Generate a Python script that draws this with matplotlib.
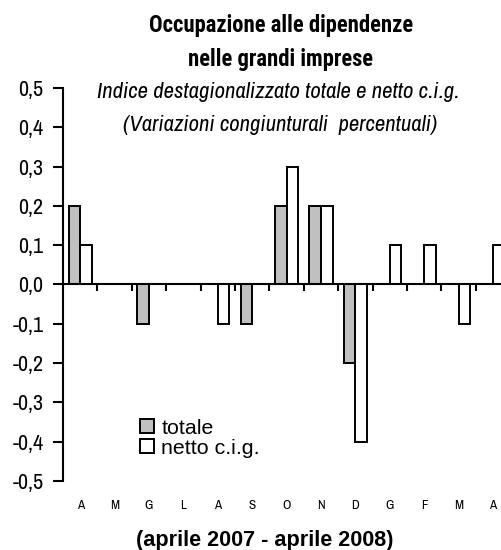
import matplotlib
matplotlib.use("Agg")
import matplotlib.pyplot as plt
from matplotlib.patches import Patch

# months from april 2007 to april 2008
months = ["A", "M", "G", "L", "A", "S", "O", "N", "D", "G", "F", "M", "A"]
totale = [0.2, 0.0, -0.1, 0.0, 0.0, -0.1, 0.2, 0.2, -0.2, 0.0, 0.0, 0.0, 0.0]
netto = [0.1, 0.0, 0.0, 0.0, -0.1, 0.0, 0.3, 0.2, -0.4, 0.1, 0.1, -0.1, 0.1]
y_ticks = [0.5, 0.4, 0.3, 0.2, 0.1, 0.0, -0.1, -0.2, -0.3, -0.4, -0.5]
y_labels = ["0,5", "0,4", "0,3", "0,2", "0,1", "0,0", "-0,1", "-0,2", "-0,3", "-0,4", "-0,5"]

narrow = ["Archivo Narrow", "Roboto Condensed", "DejaVu Sans"]
narrow_bold = ["Roboto Condensed", "Archivo Narrow", "DejaVu Sans"]
arial = ["Liberation Sans", "Arimo", "DejaVu Sans"]

fig = plt.figure(figsize=(5.02, 5.5), dpi=100)
ax = fig.add_axes([0.1255, 0.1255, 0.8908, 0.7145])

x = list(range(len(months)))
w = 0.335
ax.bar([i - w / 2 for i in x], totale, w, color="#c0c0c0", edgecolor="black", linewidth=1.4, zorder=2)
ax.bar([i + w / 2 for i in x], netto, w, color="white", edgecolor="black", linewidth=1.4, zorder=2)

ax.set_xlim(-0.5, len(months) - 0.5)
ax.set_ylim(-0.5, 0.5)

# axis look
for s in ["top", "right"]:
    ax.spines[s].set_visible(False)
ax.spines["bottom"].set_position(("data", 0))
ax.spines["bottom"].set_linewidth(1.5)
ax.spines["left"].set_linewidth(1.5)
ax.spines["bottom"].set_zorder(3)

ax.set_xticks([i + 0.5 for i in x[:-1]])
ax.set_xticklabels([])
ax.tick_params(axis="x", length=5, width=1.5, direction="out")

ax.set_yticks(y_ticks)
ax.set_yticklabels(y_labels, family=narrow, fontsize=13)
ax.tick_params(axis="y", length=7, width=1.5, pad=7)

month_txt = []
for i, m in enumerate(months):
    month_txt.append(ax.text(i, -0.562, m, ha="center", va="center", fontsize=10, family=narrow))

# legend font is measured first, then the legend is built with that size
fig.canvas.draw()
r = fig.canvas.get_renderer()
probe = fig.text(0, 0, "netto c.i.g.", family=arial, fontsize=13)
leg_size = 13 * 98 / probe.get_window_extent(r).width
probe.remove()

handles = [Patch(facecolor="#c0c0c0", edgecolor="black", linewidth=1.4),
           Patch(facecolor="white", edgecolor="black", linewidth=1.4)]
leg = fig.legend(handles, ["totale", "netto c.i.g."], loc="upper left",
                 bbox_to_anchor=(0.279, 0.239), frameon=False,
                 handlelength=0.65, handleheight=0.65, handletextpad=0.35,
                 labelspacing=0.05, borderpad=0, borderaxespad=0,
                 prop={"family": arial, "size": leg_size})

t1 = fig.text(0.559, 0.9545, "Occupazione alle dipendenze", ha="center", va="center",
              fontsize=15, fontweight="bold", family=narrow_bold)
t2 = fig.text(0.559, 0.8927, "nelle grandi imprese", ha="center", va="center",
              fontsize=15, fontweight="bold", family=narrow_bold)
s1 = fig.text(0.554, 0.8327, "Indice destagionalizzato totale e netto c.i.g.", ha="center", va="center",
              fontsize=13.5, style="italic", family=narrow)
s2 = fig.text(0.558, 0.7727, "(Variazioni congiunturali  percentuali)", ha="center", va="center",
              fontsize=13.5, style="italic", family=narrow)
b = fig.text(0.527, 0.017, "(aprile 2007 - aprile 2008)", ha="center", va="center",
             fontsize=12, fontweight="bold", family=arial)

# fit the text sizes to the widths measured on the reference (pixels)
fig.canvas.draw()
for txts, target in [((t1, t2), 265), ((s1, s2), 360), ((b,), 255)]:
    k = target / txts[0].get_window_extent(r).width
    for t in txts:
        t.set_fontsize(t.get_fontsize() * k)
lab = ax.get_yticklabels()[-1]
k = 31 / lab.get_window_extent(r).width
for t in ax.get_yticklabels():
    t.set_fontsize(t.get_fontsize() * k)
k = 9 / month_txt[1].get_window_extent(r).width
for t in month_txt:
    t.set_fontsize(t.get_fontsize() * k)

fig.savefig("out.png", dpi=100)
